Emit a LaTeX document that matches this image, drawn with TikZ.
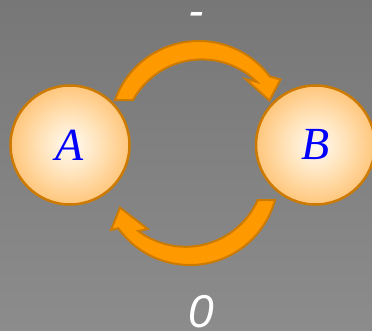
\documentclass[tikz,border=0pt]{standalone}
\usepackage{fontspec}
\setmainfont{Liberation Serif}
\newfontfamily\labelfont{Liberation Sans}
\usetikzlibrary{calc}
\definecolor{bgtop}{RGB}{119,119,119}
\definecolor{bgbottom}{RGB}{140,140,140}
\definecolor{ballrim}{RGB}{204,122,0}
\definecolor{ballcore}{RGB}{255,251,244}
\definecolor{ballmid}{RGB}{255,228,188}
\definecolor{balledge}{RGB}{255,198,124}
\definecolor{arrowfill}{RGB}{255,153,0}
\definecolor{arrowrim}{RGB}{204,122,0}
\pgfdeclareradialshading{ballglow}{\pgfpoint{0bp}{0bp}}{color(0bp)=(ballcore); color(12bp)=(ballmid); color(25bp)=(balledge); color(50bp)=(balledge)}

\begin{document}
\begin{tikzpicture}[x=1pt, y=-1pt,
    state/.style={circle, draw=ballrim, line width=2.5pt, minimum size=119pt, inner sep=0pt, shading=ballglow, font=\fontsize{46}{50}\selectfont\itshape, text=blue},
    bentarrow/.style={fill=arrowfill, draw=arrowrim, line width=2pt, line join=miter},
    sidelabel/.style={anchor=base, text=white, font=\labelfont\fontsize{46}{50}\selectfont\itshape}
  ]
    \shade[top color=bgtop, bottom color=bgbottom] (0,0) rectangle (372,331);
    \useasboundingbox (0,0) rectangle (372,331);
    \node[state] (A) at (70,145) {A};
    \node[state] (B) at (315.5,145) {B};
    % upper bent arrow, A to B
    \coordinate (topouter) at (198.7,129.8);
    \coordinate (topinner) at (201.8,137.9);
    \filldraw[bentarrow] ($(topouter)+(199.6:88.8)$) arc[start angle=199.6, end angle=323, radius=88.8]
      -- (280.5,79.5) -- (269.5,100.5) -- (245.5,79)
      -- ($(topinner)+(314.6:78.5)$) arc[start angle=314.6, end angle=208.85, radius=78.5] -- cycle;
    % lower bent arrow, B to A
    \coordinate (botouter) at (189.9,176.8);
    \coordinate (botinner) at (185.6,167.8);
    \filldraw[bentarrow] ($(botouter)+(15.25:88.2)$) arc[start angle=15.25, end angle=144.3, radius=88.2]
      -- (111,230) -- (120,207.7) -- (147.7,229)
      -- ($(botinner)+(126.8:79)$) arc[start angle=126.8, end angle=24.1, radius=79] -- cycle;
    \node[sidelabel] (dash) at (196,27) {-};
    \node[sidelabel] (zero) at (201,327.5) {0};
\end{tikzpicture}
\end{document}
